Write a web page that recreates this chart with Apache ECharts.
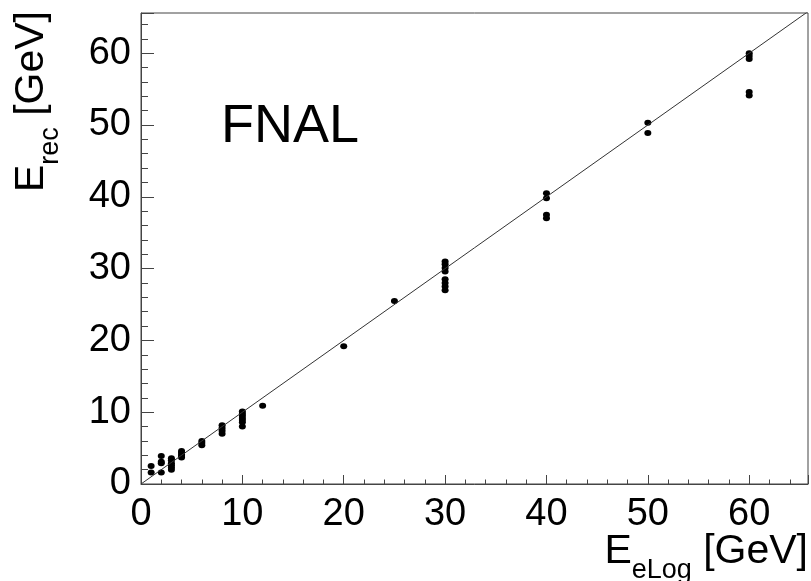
<!DOCTYPE html>
<html>
<head>
<meta charset="utf-8">
<script src="https://cdn.jsdelivr.net/npm/echarts@6/dist/echarts.min.js"></script>
<style>
html,body{margin:0;padding:0;background:#fff;}
#chart{width:811px;height:581px;}
</style>
</head>
<body>
<div id="chart"></div>
<script>
// Beam energies (E_eLog, GeV)
const energies = [1, 2, 3, 4, 6, 8, 10, 12, 20, 25, 30, 40, 50, 60];
// Reconstructed energies (E_rec, GeV) per beam energy
const recon = [
  [2.5, 1.6],
  [3.9, 3.1, 2.9, 1.6],
  [3.6, 3.3, 2.9, 2.6, 2.3, 2.0],
  [4.6, 4.4, 4.1, 3.9, 3.7],
  [6.0, 5.7, 5.4],
  [8.2, 7.8, 7.4, 7.0],
  [10.1, 9.8, 9.5, 9.2, 8.9, 8.6, 8.0],
  [10.9],
  [19.2],
  [25.5],
  [31.0, 30.6, 30.1, 29.6, 28.5, 28.0, 27.5, 27.0],
  [40.5, 39.8, 37.5, 37.0],
  [50.3, 48.9],
  [60.0, 59.6, 59.2, 54.6, 54.1]
];
// Diagonal y = x reference line endpoints
const diagonal = [0, 65.8];
const xRange = [0, 65.8];
const yRange = [0, 65.6];

const points = [];
energies.forEach((e, i) => recon[i].forEach(v => points.push([e, v])));

const FONT = 'Liberation Sans';
const chart = echarts.init(document.getElementById('chart'), null, {renderer: 'canvas'});
chart.setOption({
  animation: false,
  backgroundColor: '#fff',
  grid: {left: 141, right: 3, top: 13, bottom: 97, containLabel: false,
         show: true, borderColor: '#444', borderWidth: 1, backgroundColor: 'transparent'},
  xAxis: {
    type: 'value', min: xRange[0], max: xRange[1], interval: 10,
    axisLine: {show: true, onZero: false, lineStyle: {color: '#444', width: 1}},
    axisTick: {show: true, inside: true, length: 9, lineStyle: {color: '#444'}},
    minorTick: {show: true, splitNumber: 5, length: 4.5, lineStyle: {color: '#444'}},
    splitLine: {show: false},
    axisLabel: {show: true, margin: 12, color: '#000', fontFamily: FONT, fontSize: 38, showMaxLabel: false}
  },
  yAxis: {
    type: 'value', min: yRange[0], max: yRange[1], interval: 10,
    axisLine: {show: true, onZero: false, lineStyle: {color: '#444', width: 1}},
    axisTick: {show: true, inside: true, length: 13, lineStyle: {color: '#444'}},
    minorTick: {show: true, splitNumber: 5, length: 7, lineStyle: {color: '#444'}},
    splitLine: {show: false},
    axisLabel: {show: true, margin: 10, color: '#000', fontFamily: FONT, fontSize: 38,
                showMaxLabel: false, padding: [6, 0, 0, 0]}
  },
  series: [
    {
      type: 'line', data: [[diagonal[0], diagonal[0]], [diagonal[1], diagonal[1]]],
      symbol: 'none', clip: true, silent: true,
      lineStyle: {color: '#333', width: 1}
    },
    {
      type: 'scatter', data: points, symbol: 'circle', symbolSize: [7, 6],
      itemStyle: {color: '#000', opacity: 1}, clip: true
    }
  ],
  graphic: [
    {
      type: 'text', left: 221, top: 100,
      style: {text: 'FNAL', fontFamily: FONT, fontSize: 54, fill: '#000'}
    },
    {
      type: 'text', x: 52, y: 11, rotation: Math.PI / 2,
      style: {
        text: '{m|E}{s|rec}{m| [GeV]}', align: 'right', verticalAlign: 'bottom',
        rich: {
          m: {fontFamily: FONT, fontSize: 41, fill: '#000', verticalAlign: 'bottom'},
          s: {fontFamily: FONT, fontSize: 27, fill: '#000', verticalAlign: 'bottom', padding: [0, 0, -12, 0]}
        },
        fill: '#000'
      }
    },
    {
      type: 'text', x: 808, y: 572,
      style: {
        text: '{m|E}{s|eLog}{m| [GeV]}', align: 'right', verticalAlign: 'bottom',
        rich: {
          m: {fontFamily: FONT, fontSize: 41, fill: '#000', verticalAlign: 'bottom'},
          s: {fontFamily: FONT, fontSize: 27, fill: '#000', verticalAlign: 'bottom', padding: [0, 0, -12, 0]}
        },
        fill: '#000'
      }
    }
  ]
});
</script>
</body>
</html>
